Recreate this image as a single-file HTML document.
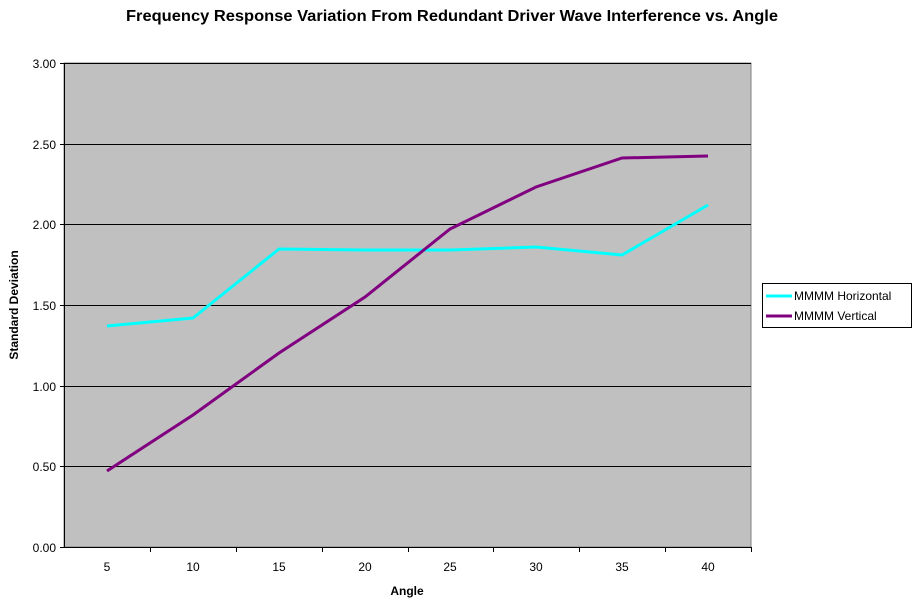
<!DOCTYPE html>
<html><head><style>
body{margin:0;background:#fff;}
svg{display:block;font-family:"Liberation Sans",Arial,sans-serif;}
</style></head><body>
<svg width="919" height="605" viewBox="0 0 919 605">
<rect width="919" height="605" fill="#fff"/>
<text x="126" y="21" font-size="16" font-weight="bold" textLength="652" lengthAdjust="spacingAndGlyphs">Frequency Response Variation From Redundant Driver Wave Interference vs. Angle</text>
<rect x="64" y="63" width="687" height="484" fill="#c0c0c0" stroke="#808080" stroke-width="1"/>
<g stroke="#000" stroke-width="1">
<line x1="64" y1="63.5" x2="751" y2="63.5"/>
<line x1="64" y1="144.5" x2="751" y2="144.5"/>
<line x1="64" y1="224.5" x2="751" y2="224.5"/>
<line x1="64" y1="305.5" x2="751" y2="305.5"/>
<line x1="64" y1="386.5" x2="751" y2="386.5"/>
<line x1="64" y1="466.5" x2="751" y2="466.5"/>
<line x1="64.5" y1="63" x2="64.5" y2="547"/>
<line x1="64" y1="547.5" x2="751" y2="547.5"/>
<line x1="60" y1="63.5" x2="64" y2="63.5"/><line x1="60" y1="144.5" x2="64" y2="144.5"/>
<line x1="60" y1="224.5" x2="64" y2="224.5"/><line x1="60" y1="305.5" x2="64" y2="305.5"/>
<line x1="60" y1="386.5" x2="64" y2="386.5"/><line x1="60" y1="466.5" x2="64" y2="466.5"/>
<line x1="60" y1="547.5" x2="64" y2="547.5"/>
<line x1="150.5" y1="547" x2="150.5" y2="552"/><line x1="236.5" y1="547" x2="236.5" y2="552"/>
<line x1="322.5" y1="547" x2="322.5" y2="552"/><line x1="408.5" y1="547" x2="408.5" y2="552"/>
<line x1="493.5" y1="547" x2="493.5" y2="552"/><line x1="579.5" y1="547" x2="579.5" y2="552"/>
<line x1="665.5" y1="547" x2="665.5" y2="552"/><line x1="751.5" y1="547" x2="751.5" y2="552"/>
</g>
<g font-size="12" text-anchor="end">
<text x="56" y="68">3.00</text><text x="56" y="149">2.50</text><text x="56" y="229">2.00</text>
<text x="56" y="310">1.50</text><text x="56" y="391">1.00</text><text x="56" y="471">0.50</text><text x="56" y="552">0.00</text>
</g>
<g font-size="12" text-anchor="middle">
<text x="107" y="571">5</text><text x="193" y="571">10</text><text x="279" y="571">15</text><text x="365" y="571">20</text>
<text x="450" y="571">25</text><text x="536" y="571">30</text><text x="622" y="571">35</text><text x="708" y="571">40</text>
</g>
<text x="407" y="595" text-anchor="middle" font-size="12" font-weight="bold">Angle</text>
<text transform="translate(18,305) rotate(-90)" text-anchor="middle" font-size="12" font-weight="bold">Standard Deviation</text>
<polyline fill="none" stroke="#00ffff" stroke-width="3" points="107,326 193,318 279,249 365,250 450,250 536,247 622,255 708,205"/>
<polyline fill="none" stroke="#800080" stroke-width="3" points="107,471 193,415 279,353 365,297 450,229 536,187 622,158 708,156"/>
<rect x="762.5" y="283.5" width="149" height="44" fill="#fff" stroke="#000"/>
<line x1="766" y1="296" x2="792" y2="296" stroke="#00ffff" stroke-width="3"/>
<line x1="766" y1="316" x2="792" y2="316" stroke="#800080" stroke-width="3"/>
<text x="794" y="300" font-size="12">MMMM Horizontal</text>
<text x="794" y="320" font-size="12">MMMM Vertical</text>
</svg>
</body></html>
